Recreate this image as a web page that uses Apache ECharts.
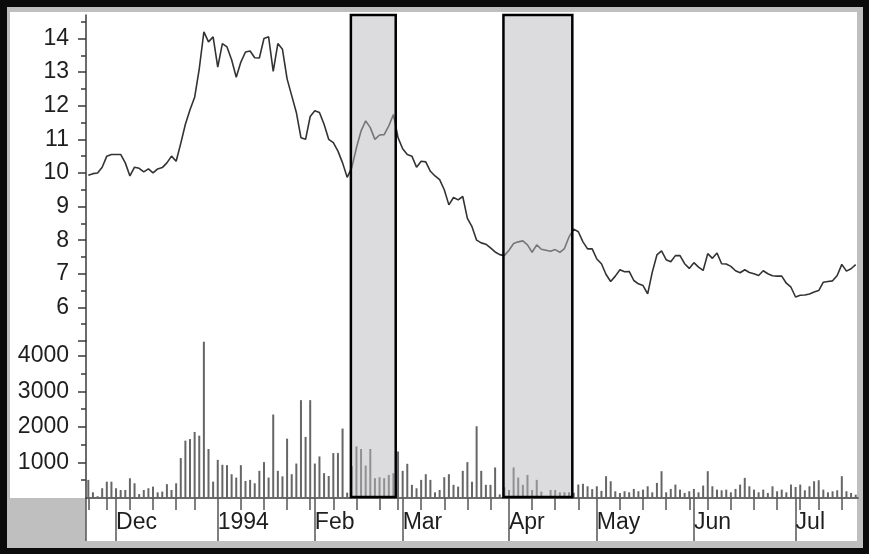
<!DOCTYPE html>
<html><head><meta charset="utf-8">
<script src="https://cdn.jsdelivr.net/npm/echarts@6/dist/echarts.min.js"></script>
<style>html,body{margin:0;padding:0;background:#000}#c{width:869px;height:554px}</style>
</head><body><div id="c"></div>
<script>
const tradingDays = [
"1993-11-22","1993-11-23","1993-11-24","1993-11-26","1993-11-29","1993-11-30",
"1993-12-01","1993-12-02","1993-12-03","1993-12-06","1993-12-07","1993-12-08","1993-12-09","1993-12-10","1993-12-13","1993-12-14","1993-12-15","1993-12-16","1993-12-17","1993-12-20","1993-12-21","1993-12-22","1993-12-23","1993-12-27","1993-12-28","1993-12-29","1993-12-30","1993-12-31",
"1994-01-03","1994-01-04","1994-01-05","1994-01-06","1994-01-07","1994-01-10","1994-01-11","1994-01-12","1994-01-13","1994-01-14","1994-01-17","1994-01-18","1994-01-19","1994-01-20","1994-01-21","1994-01-24","1994-01-25","1994-01-26","1994-01-27","1994-01-28","1994-01-31",
"1994-02-01","1994-02-02","1994-02-03","1994-02-04","1994-02-07","1994-02-08","1994-02-09","1994-02-10","1994-02-11","1994-02-14","1994-02-15","1994-02-16","1994-02-17","1994-02-18","1994-02-22","1994-02-23","1994-02-24","1994-02-25","1994-02-28",
"1994-03-01","1994-03-02","1994-03-03","1994-03-04","1994-03-07","1994-03-08","1994-03-09","1994-03-10","1994-03-11","1994-03-14","1994-03-15","1994-03-16","1994-03-17","1994-03-18","1994-03-21","1994-03-22","1994-03-23","1994-03-24","1994-03-25","1994-03-28","1994-03-29","1994-03-30","1994-03-31",
"1994-04-04","1994-04-05","1994-04-06","1994-04-07","1994-04-08","1994-04-11","1994-04-12","1994-04-13","1994-04-14","1994-04-15","1994-04-18","1994-04-19","1994-04-20","1994-04-21","1994-04-22","1994-04-25","1994-04-26","1994-04-28","1994-04-29",
"1994-05-02","1994-05-03","1994-05-04","1994-05-05","1994-05-06","1994-05-09","1994-05-10","1994-05-11","1994-05-12","1994-05-13","1994-05-16","1994-05-17","1994-05-18","1994-05-19","1994-05-20","1994-05-23","1994-05-24","1994-05-25","1994-05-26","1994-05-27","1994-05-31",
"1994-06-01","1994-06-02","1994-06-03","1994-06-06","1994-06-07","1994-06-08","1994-06-09","1994-06-10","1994-06-13","1994-06-14","1994-06-15","1994-06-16","1994-06-17","1994-06-20","1994-06-21","1994-06-22","1994-06-23","1994-06-24","1994-06-27","1994-06-28","1994-06-29","1994-06-30",
"1994-07-01","1994-07-05","1994-07-06","1994-07-07","1994-07-08","1994-07-11","1994-07-12","1994-07-13","1994-07-14","1994-07-15","1994-07-18","1994-07-19","1994-07-20","1994-07-21"
];

const prices = [
9.93,9.98,10.0,10.17,10.5,10.55,10.55,10.55,10.3,9.91,
10.17,10.14,10.03,10.12,10.0,10.12,10.16,10.3,10.5,10.35,
10.88,11.45,11.88,12.25,13.1,14.2,13.9,14.05,13.15,13.85,
13.75,13.37,12.85,13.3,13.6,13.63,13.43,13.42,14.0,14.05,
13.02,13.85,13.68,12.8,12.3,11.8,11.05,11.0,11.68,11.85,
11.8,11.45,11.0,10.9,10.65,10.3,9.87,10.16,10.75,11.25,
11.55,11.35,11.0,11.13,11.14,11.4,11.74,11.05,10.72,10.55,
10.5,10.17,10.35,10.33,10.05,9.91,9.8,9.5,9.05,9.27,
9.2,9.3,8.65,8.4,8.0,7.92,7.88,7.77,7.65,7.57,
7.54,7.7,7.9,7.95,7.98,7.86,7.64,7.86,7.73,7.7,
7.67,7.72,7.64,7.75,8.1,8.33,8.25,7.95,7.74,7.74,
7.44,7.3,6.98,6.77,6.93,7.12,7.06,7.07,6.8,6.7,
6.65,6.4,7.05,7.56,7.68,7.42,7.36,7.54,7.54,7.3,
7.16,7.33,7.2,7.1,7.6,7.46,7.62,7.3,7.29,7.22,
7.09,7.03,7.12,7.04,7.0,6.95,7.09,7.0,6.94,6.93,
6.93,6.72,6.6,6.31,6.36,6.37,6.4,6.46,6.5,6.75,
6.77,6.79,6.95,7.28,7.08,7.15,7.27
];

const volumes = [
510,160,50,275,460,460,275,225,225,555,
415,110,225,275,320,160,180,390,225,415,
1125,1615,1660,1860,1755,4400,1380,460,1075,935,
925,670,575,925,480,510,415,765,1010,575,
2350,765,610,1670,670,970,2755,1720,2755,970,
1170,700,620,1265,1265,1955,150,900,1455,1380,
915,1380,557,585,557,650,700,1310,765,963,
370,275,510,670,510,160,225,585,670,370,
320,765,1010,460,2020,765,370,370,860,100,
300,225,860,575,370,650,225,510,180,60,
225,225,160,160,160,150,380,400,330,250,
330,200,614,472,190,140,190,160,255,190,
236,330,160,425,755,160,255,378,236,142,
189,255,160,350,755,330,236,217,236,160,
255,378,566,330,236,160,236,142,330,189,
236,160,378,311,378,217,330,472,500,236,
160,189,217,614,189,142,94
];

const priceTicks = [5,6,7,8,9,10,11,12,13,14];
const priceLabels = [6,7,8,9,10,11,12,13,14];
const priceMinorTicks = [5.5,6.5,7.5,8.5,9.5,10.5,11.5,12.5,13.5,14.5];
const volumeTicks = [1000,2000,3000,4000];
const volumeLabels = [1000,2000,3000,4000];
const volumeMinorTicks = [500,1500,2500,3500];
const monthNames = ['Jan','Feb','Mar','Apr','May','Jun','Jul','Aug','Sep','Oct','Nov','Dec'];
// highlighted periods, in trading-day index units
const highlightSpans = [[56.8, 66.5], [89.8, 104.7]];

const FONT = "'Liberation Sans', Arial, Helvetica, sans-serif";
const AXIS = '#3a3a3a';
const dayOf = s => new Date(s + 'T00:00:00Z');
function isWeekStart(i) {
  if (i === 0) return true;
  const a = dayOf(tradingDays[i - 1]), b = dayOf(tradingDays[i]);
  return b.getUTCDay() <= a.getUTCDay() || (b - a) > 4 * 86400000;
}
function isMonthStart(i) {
  if (i === 0) return false;
  return tradingDays[i].slice(5, 7) !== tradingDays[i - 1].slice(5, 7);
}
function monthLabel(v) {
  const d = dayOf(v);
  return d.getUTCMonth() === 0 ? String(d.getUTCFullYear()) : monthNames[d.getUTCMonth()];
}
const plain = v => String(v);

const chart = echarts.init(document.getElementById('c'), null, {renderer: 'canvas'});
const gridBase = {left: 86, right: 11, outerBoundsMode: 'none', containLabel: false};
const labelStyle = {fontFamily: FONT, fontSize: 23, color: '#1e1e1e'};

chart.setOption({
  animation: false,
  backgroundColor: '#000',
  graphic: [
    {type: 'rect', z: -100, silent: true, shape: {x: 0, y: 0, width: 869, height: 554}, style: {fill: '#0b0b0b'}},
    {type: 'rect', z: -99, silent: true, shape: {x: 7, y: 7, width: 856, height: 541}, style: {fill: '#bfbfbf'}},
    {type: 'rect', z: -98, silent: true, shape: {x: 10, y: 12, width: 847, height: 486}, style: {fill: '#ffffff'}},
    {type: 'rect', z: -98, silent: true, shape: {x: 86, y: 498, width: 771, height: 43}, style: {fill: '#ffffff'}},
    {type: 'line', z: -97, silent: true, shape: {x1: 86, y1: 498, x2: 86, y2: 541}, style: {stroke: '#555', lineWidth: 1.5}}
  ],
  grid: [
    Object.assign({top: 15, height: 326}, gridBase),
    Object.assign({top: 341, height: 157}, gridBase),
    Object.assign({top: 15, height: 482}, gridBase)
  ],
  xAxis: [
    {type: 'category', gridIndex: 0, data: tradingDays, boundaryGap: true, show: false},
    {type: 'category', gridIndex: 1, data: tradingDays, boundaryGap: true, position: 'bottom',
      axisLine: {show: true, lineStyle: {color: AXIS, width: 1.5}},
      axisTick: {show: true, alignWithLabel: true, length: 12, interval: (i) => isWeekStart(i), lineStyle: {color: '#555', width: 1.5}},
      axisLabel: {show: false}, splitLine: {show: false}},
    {type: 'category', gridIndex: 1, data: tradingDays, boundaryGap: true, position: 'bottom',
      axisLine: {show: false},
      axisTick: {show: true, alignWithLabel: true, length: 43, interval: (i) => isMonthStart(i), lineStyle: {color: '#555', width: 1.5}},
      axisLabel: Object.assign({show: true, interval: (i) => isMonthStart(i), formatter: monthLabel, align: 'left', margin: 13, hideOverlap: false}, labelStyle),
      splitLine: {show: false}},
    {type: 'value', gridIndex: 2, min: -0.5, max: tradingDays.length - 0.5, show: false}
  ],
  yAxis: [
    {type: 'value', gridIndex: 0, position: 'left', min: 5, max: 14.7, interval: 1,
      axisLine: {show: true, lineStyle: {color: AXIS, width: 1.5}},
      axisTick: {show: true, length: 8, customValues: priceTicks, lineStyle: {color: AXIS, width: 1.5}},
      axisLabel: Object.assign({show: true, customValues: priceLabels, margin: 17, formatter: plain}, labelStyle),
      splitLine: {show: false}},
    {type: 'value', gridIndex: 0, position: 'left', min: 5, max: 14.7, interval: 1,
      axisLine: {show: false},
      axisTick: {show: true, length: 5, customValues: priceMinorTicks, lineStyle: {color: AXIS, width: 1.5}},
      axisLabel: {show: false}, splitLine: {show: false}},
    {type: 'value', gridIndex: 1, position: 'left', min: 0, max: 4420, interval: 1000,
      axisLine: {show: true, lineStyle: {color: AXIS, width: 1.5}},
      axisTick: {show: true, length: 8, customValues: volumeTicks, lineStyle: {color: AXIS, width: 1.5}},
      axisLabel: Object.assign({show: true, customValues: volumeLabels, margin: 17, formatter: plain}, labelStyle),
      splitLine: {show: false}},
    {type: 'value', gridIndex: 1, position: 'left', min: 0, max: 4420, interval: 1000,
      axisLine: {show: false},
      axisTick: {show: true, length: 5, customValues: volumeMinorTicks, lineStyle: {color: AXIS, width: 1.5}},
      axisLabel: {show: false}, splitLine: {show: false}},
    {type: 'value', gridIndex: 2, position: 'left', min: 0, max: 1, show: false}
  ],
  series: [
    {type: 'line', xAxisIndex: 0, yAxisIndex: 0, data: prices, showSymbol: false, z: 3,
      lineStyle: {color: '#333', width: 1.6}, silent: true},
    {type: 'bar', xAxisIndex: 1, yAxisIndex: 2, data: volumes, barWidth: 2, z: 2,
      itemStyle: {color: '#666'}, silent: true},
    {type: 'line', xAxisIndex: 3, yAxisIndex: 4, data: [], z: 10, silent: true,
      markArea: {z: 10, silent: true,
        itemStyle: {color: 'rgba(186,186,192,0.5)', borderColor: '#000', borderWidth: 2.5},
        data: highlightSpans.map(s => [{xAxis: s[0]}, {xAxis: s[1]}])}}
  ]
});
</script>
</body></html>
